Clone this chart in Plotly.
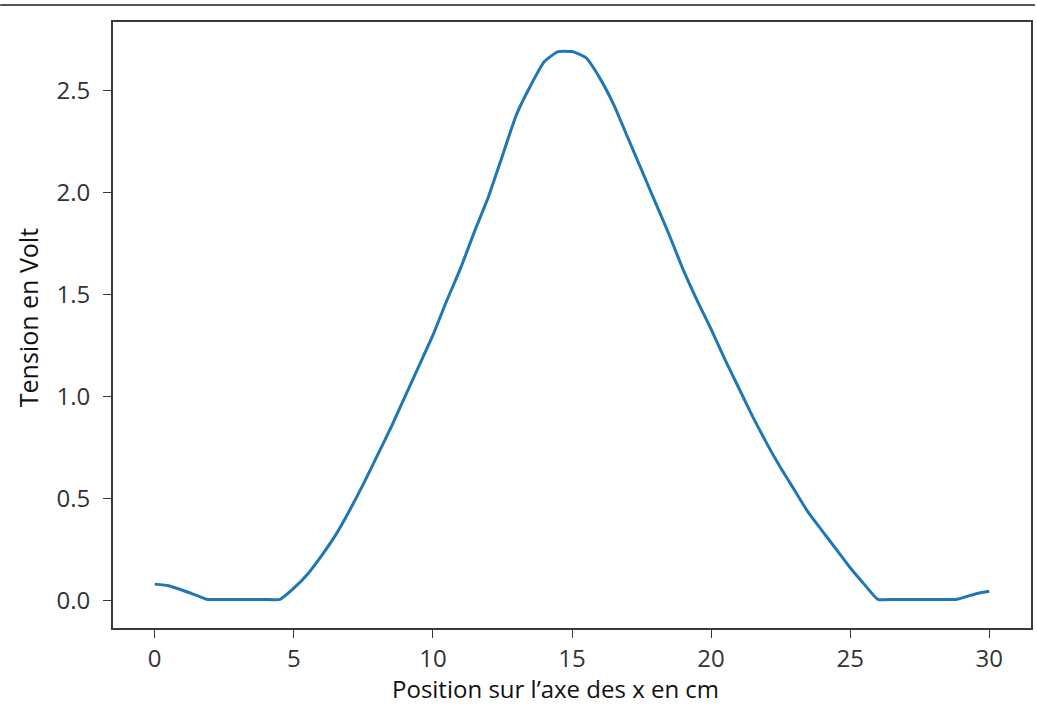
import plotly.graph_objects as go

x_cm = [0, 0.5, 1, 1.5, 1.9, 2.5, 3, 3.5, 4, 4.5, 5, 5.5, 6, 6.5, 7, 7.5, 8, 8.5, 9, 9.5,
        10, 10.5, 11, 11.5, 12, 12.5, 13, 13.5, 14, 14.5, 15, 15.5, 16, 16.5, 17, 17.5,
        18, 18.5, 19, 19.5, 20, 20.5, 21, 21.5, 22, 22.5, 23, 23.5, 24, 24.5, 25, 25.5,
        26, 26.5, 27, 27.5, 28, 28.5, 28.8, 29.2, 29.6, 30]
tension = [0.08, 0.072, 0.05, 0.025, 0.005, 0.005, 0.005, 0.005, 0.005, 0.005, 0.06, 0.13,
           0.22, 0.32, 0.44, 0.57, 0.71, 0.85, 1.0, 1.15, 1.30, 1.47, 1.63, 1.81, 1.98, 2.18,
           2.38, 2.52, 2.64, 2.69, 2.69, 2.66, 2.56, 2.43, 2.27, 2.11, 1.95, 1.79, 1.62, 1.47,
           1.33, 1.18, 1.04, 0.90, 0.77, 0.65, 0.54, 0.43, 0.34, 0.25, 0.16, 0.08, 0.005,
           0.005, 0.005, 0.005, 0.005, 0.005, 0.005, 0.02, 0.035, 0.045]

x_ticks = [0, 5, 10, 15, 20, 25, 30]
y_ticks = [0.0, 0.5, 1.0, 1.5, 2.0, 2.5]
y_tick_labels = ["0.0", "0.5", "1.0", "1.5", "2.0", "2.5"]

W, H = 1037, 708
ml, mr, mt, mb = 113, 4, 22, 80
pw, ph = W - ml - mr, H - mt - mb

fig = go.Figure()
fig.add_trace(go.Scatter(x=x_cm, y=tension, mode="lines",
                         line=dict(color="#1f77b4", width=3, shape="spline", smoothing=0.5),
                         showlegend=False))

axis_common = dict(showgrid=False, zeroline=False, showline=True, linecolor="#3a3a3a",
                   linewidth=1.8, mirror=True, ticks="outside", ticklen=8, tickwidth=1.3,
                   tickcolor="#3a3a3a", tickfont=dict(family="Open Sans", size=24, color="#333333"))

fig.update_layout(
    width=W, height=H,
    margin=dict(l=ml, r=mr, t=mt, b=mb),
    paper_bgcolor="white", plot_bgcolor="white",
    xaxis=dict(range=[-1.5, 31.5], tickvals=x_ticks, ticklabelstandoff=0, **axis_common),
    yaxis=dict(range=[-0.135, 2.835], tickvals=y_ticks, ticktext=y_tick_labels,
               ticklabelstandoff=8, **axis_common),
    annotations=[
        dict(text="Position sur l\u2019axe des x en cm", xref="paper", yref="paper",
             x=(556 - ml) / pw, y=-(H - 1 - (mt + ph)) / ph, xanchor="center", yanchor="bottom",
             showarrow=False, font=dict(family="Open Sans", size=24, color="#111111")),
        dict(text="Tension en Volt", xref="paper", yref="paper",
             x=-(ml - 28) / pw, y=1 - (318 - mt) / ph, xanchor="center", yanchor="middle",
             textangle=-90, showarrow=False,
             font=dict(family="Open Sans", size=25, color="#111111")),
    ],
    shapes=[
        dict(type="line", xref="paper", yref="paper", x0=-ml / pw, x1=1 + mr / pw,
             y0=1 + (mt - 5) / ph, y1=1 + (mt - 5) / ph,
             line=dict(color="#555555", width=2)),
    ],
)

fig.write_html("out.html", config={"displayModeBar": False},
               post_script="document.body.style.margin='0';document.body.style.padding='0';")
